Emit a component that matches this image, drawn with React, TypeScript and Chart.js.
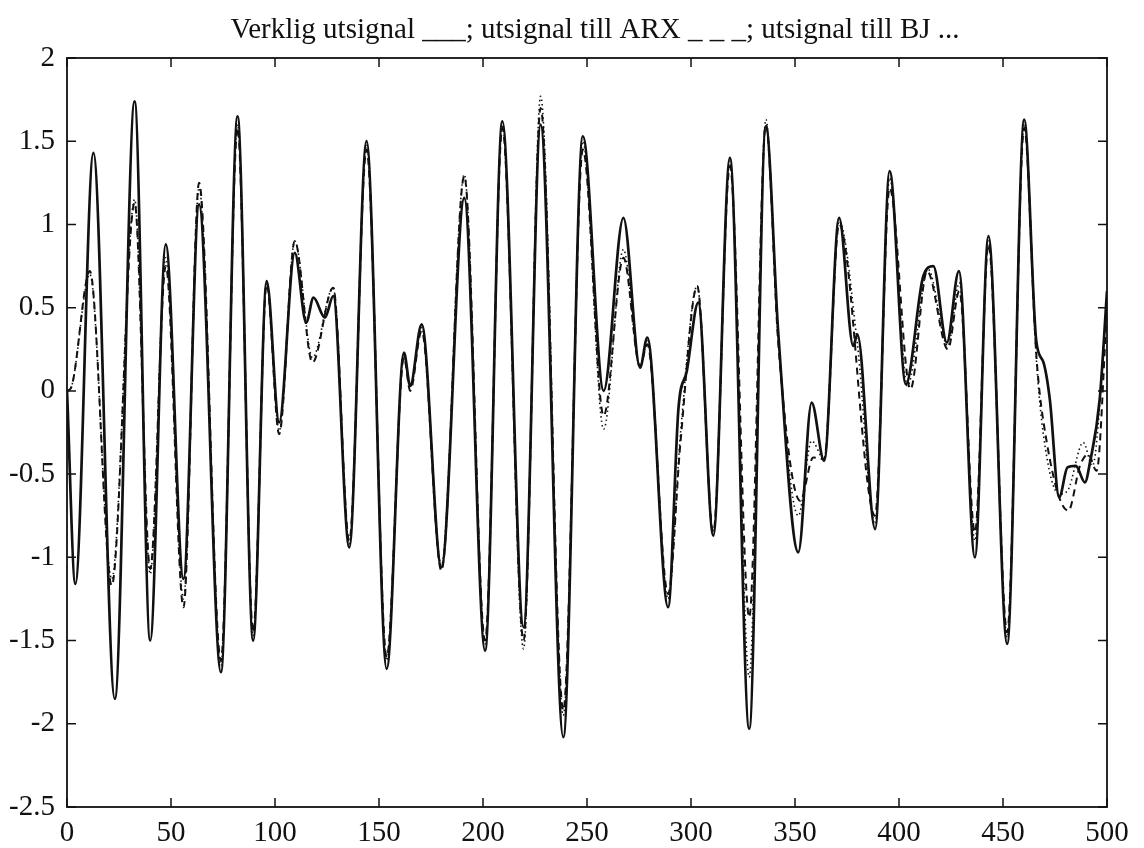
import { useEffect, useRef } from "react";
import { Chart, registerables } from "chart.js";

Chart.register(...registerables);

const TITLE = "Verklig utsignal ___; utsignal till ARX _ _ _; utsignal till BJ ...";

const xTickValues = [0, 50, 100, 150, 200, 250, 300, 350, 400, 450, 500];
const yTickValues = [-2.5, -2, -1.5, -1, -0.5, 0, 0.5, 1, 1.5, 2];

// Verklig utsignal (solid)
const actualX = [0, 4, 12.7, 23, 32.5, 40, 47.5, 56, 63.5, 74, 82, 89.5, 96, 102, 109.5, 115, 118.5, 124, 128, 135.7, 144, 153.7, 162, 165, 170.5, 180, 191, 201, 209.3, 219.5, 227.7, 238.6, 248, 258, 267.5, 275.5, 279, 289, 294, 298, 303.5, 310.7, 318.7, 328, 336, 342, 351.6, 358, 364, 371.2, 378, 380, 388.5, 395.5, 403.3, 411.7, 416.5, 423, 428.8, 436.5, 443, 452, 460.2, 466, 469.5, 472.5, 477, 481, 485, 489.4, 491.8, 496.5, 500];
const actualY = [0, -1.16, 1.43, -1.85, 1.74, -1.5, 0.88, -1.13, 1.12, -1.69, 1.65, -1.5, 0.66, -0.19, 0.83, 0.41, 0.56, 0.44, 0.57, -0.94, 1.5, -1.67, 0.23, 0.03, 0.4, -1.06, 1.16, -1.56, 1.62, -1.42, 1.6, -2.08, 1.53, 0.0, 1.04, 0.14, 0.32, -1.3, -0.1, 0.12, 0.53, -0.87, 1.4, -2.03, 1.59, 0.34, -0.97, -0.07, -0.42, 1.04, 0.27, 0.34, -0.83, 1.32, 0.04, 0.69, 0.75, 0.29, 0.72, -1.0, 0.93, -1.52, 1.63, 0.3, 0.17, -0.05, -0.64, -0.46, -0.45, -0.55, -0.43, -0.05, 0.6];

// utsignal till ARX (dashed)
const arxX = [0, 2, 11, 21.5, 32.5, 40, 47.5, 56, 63.5, 74, 82, 89.5, 96, 102, 109.5, 118, 128, 135.7, 144, 153.7, 162, 165, 170.5, 180, 191, 201, 209.3, 219.5, 227.7, 238.6, 248, 258, 267.5, 275.5, 279, 289, 295, 303, 310.7, 318.7, 328, 336, 342, 352.5, 358.8, 364, 371.2, 388.5, 395.5, 405.5, 413.5, 423.5, 429, 436.5, 443, 452, 460.2, 466, 469.5, 481.4, 487, 491, 495, 500];
const arxY = [0, 0.02, 0.72, -1.17, 1.13, -1.07, 0.75, -1.3, 1.25, -1.62, 1.58, -1.45, 0.64, -0.26, 0.9, 0.17, 0.62, -0.9, 1.45, -1.6, 0.2, 0.0, 0.36, -1.08, 1.29, -1.5, 1.58, -1.5, 1.7, -1.92, 1.45, -0.15, 0.8, 0.15, 0.28, -1.22, -0.3, 0.63, -0.85, 1.35, -1.36, 1.6, 0.28, -0.66, -0.4, -0.41, 1.0, -0.75, 1.22, 0.01, 0.72, 0.25, 0.6, -0.85, 0.88, -1.45, 1.58, 0.22, -0.19, -0.72, -0.45, -0.38, -0.48, 0.5];

// utsignal till BJ (dotted)
const bjX = [0, 2, 11, 21.5, 32.5, 40, 47.5, 56, 63.5, 74, 82, 89.5, 96, 102, 109.5, 118, 128, 135.7, 144, 153.7, 162, 165, 170.5, 180, 191, 201, 209.3, 219.5, 227.7, 238.6, 248, 258, 267.5, 275.5, 279, 289, 295, 303, 310.7, 318.7, 328, 336, 342, 351.6, 358, 364, 371.2, 380, 388.5, 395.5, 404, 414, 423.5, 429, 436.5, 443, 452, 460.2, 466, 469.5, 477, 481, 488.6, 493, 500];
const bjY = [0, 0.02, 0.7, -1.13, 1.15, -1.1, 0.8, -1.25, 1.22, -1.65, 1.6, -1.47, 0.65, -0.24, 0.9, 0.2, 0.62, -0.92, 1.48, -1.62, 0.22, 0.02, 0.38, -1.05, 1.3, -1.52, 1.6, -1.55, 1.77, -1.95, 1.5, -0.23, 0.85, 0.14, 0.3, -1.25, -0.25, 0.63, -0.86, 1.38, -1.72, 1.63, 0.3, -0.75, -0.3, -0.41, 1.02, 0.28, -0.8, 1.28, 0.03, 0.73, 0.27, 0.65, -0.9, 0.9, -1.48, 1.6, 0.2, -0.27, -0.62, -0.6, -0.31, -0.45, 0.55];

const FONT = "'Liberation Serif', 'DejaVu Serif', serif";
const INK = "#111111";

const toPoints = (xs: number[], ys: number[]) => xs.map((x, i) => ({ x, y: ys[i] }));

const framePlugin = {
  id: "matlabFrame",
  afterDraw(chart: any) {
    const { ctx, chartArea } = chart;
    const { left, right, top, bottom } = chartArea;
    const xs = chart.scales.x;
    const ys = chart.scales.y;
    ctx.save();
    ctx.strokeStyle = INK;
    ctx.lineWidth = 1.8;
    ctx.strokeRect(left, top, right - left, bottom - top);
    ctx.lineWidth = 1.5;
    const tl = 9;
    ctx.beginPath();
    xTickValues.forEach((v) => {
      const px = xs.getPixelForValue(v);
      ctx.moveTo(px, bottom);
      ctx.lineTo(px, bottom - tl);
      ctx.moveTo(px, top);
      ctx.lineTo(px, top + tl);
    });
    yTickValues.forEach((v) => {
      const py = ys.getPixelForValue(v);
      ctx.moveTo(left, py);
      ctx.lineTo(left + tl, py);
      ctx.moveTo(right, py);
      ctx.lineTo(right - tl, py);
    });
    ctx.stroke();
    // title
    ctx.fillStyle = INK;
    ctx.font = `29px ${FONT}`;
    ctx.textAlign = "center";
    ctx.textBaseline = "middle";
    ctx.fillText(TITLE, (left + right) / 2 + 8, top - 28);
    ctx.restore();
  },
};

export default function App() {
  const ref = useRef<HTMLCanvasElement | null>(null);

  useEffect(() => {
    if (!ref.current) return;
    const chart = new Chart(ref.current, {
      type: "line",
      data: {
        datasets: [
          {
            label: "Verklig utsignal",
            data: toPoints(actualX, actualY),
            borderColor: INK,
            borderWidth: 2.7,
            pointRadius: 0,
            cubicInterpolationMode: "monotone",
            fill: false,
          },
          {
            label: "utsignal till ARX",
            data: toPoints(arxX, arxY),
            borderColor: INK,
            borderWidth: 2.0,
            borderDash: [7, 5],
            pointRadius: 0,
            cubicInterpolationMode: "monotone",
            fill: false,
          },
          {
            label: "utsignal till BJ",
            data: toPoints(bjX, bjY),
            borderColor: INK,
            borderWidth: 1.6,
            borderDash: [1.5, 3],
            pointRadius: 0,
            cubicInterpolationMode: "monotone",
            fill: false,
          },
        ],
      },
      options: {
        animation: false,
        responsive: false,
        layout: { padding: { top: 58, right: 37, left: 0, bottom: 0 } },
        plugins: {
          legend: { display: false },
          title: { display: false },
          tooltip: { enabled: false },
        },
        scales: {
          x: {
            type: "linear",
            min: 0,
            max: 500,
            afterBuildTicks: (scale: any) => {
              scale.ticks = xTickValues.map((v) => ({ value: v }));
            },
            afterFit: (scale: any) => {
              scale.height = 41;
            },
            ticks: {
              color: INK,
              font: { family: FONT, size: 29 },
              padding: 9,
              maxRotation: 0,
              callback: (v: any) => String(v),
            },
            grid: { display: false, drawTicks: false },
            border: { display: false },
          },
          y: {
            type: "linear",
            min: -2.5,
            max: 2,
            afterBuildTicks: (scale: any) => {
              scale.ticks = yTickValues.map((v) => ({ value: v }));
            },
            afterFit: (scale: any) => {
              scale.width = 67;
            },
            ticks: {
              color: INK,
              font: { family: FONT, size: 29 },
              padding: 12,
              callback: (v: any) => String(v),
            },
            grid: { display: false, drawTicks: false },
            border: { display: false },
          },
        },
      },
      plugins: [framePlugin],
    });
    return () => chart.destroy();
  }, []);

  return (
    <div style={{ position: "fixed", left: 0, top: 0, width: 1144, height: 848, background: "#fff" }}>
      <canvas ref={ref} width={1144} height={848} style={{ display: "block" }} />
    </div>
  );
}
